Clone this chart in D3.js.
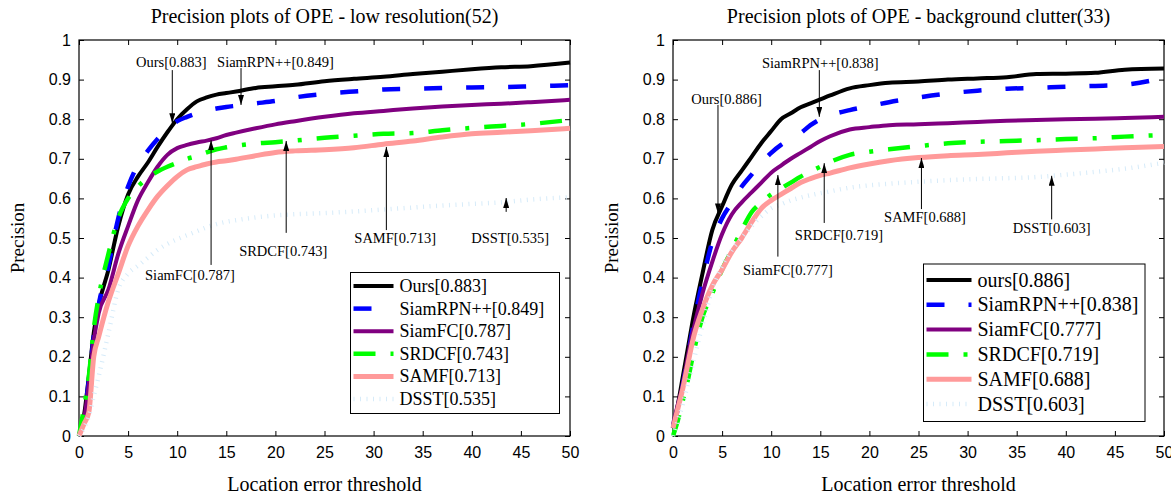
<!DOCTYPE html>
<html>
<head>
<meta charset="utf-8">
<script src="https://cdn.jsdelivr.net/npm/d3@7"></script>
<style>
  html, body { margin: 0; padding: 0; background: #fff; }
  svg { display: block; }
  .serif { font-family: "Liberation Serif", "Times New Roman", serif; }
  .tick text { font-family: "Liberation Sans", Arial, sans-serif; font-size: 16px; fill: #000; }
</style>
</head>
<body>
<svg id="chart" width="1171" height="496"></svg>
<script>
// thresholds (location error, px)
var thresholds = [0,0.5,1,1.5,2,3,4,5,6,7,8,9,10,11,12,13,14,15,16,18,20,22,25,28,31,34,37,40,43,46,50];

// low resolution(52)
var lrOurs    = [0,0.05,0.15,0.26,0.33,0.42,0.53,0.61,0.655,0.69,0.73,0.767,0.8,0.825,0.845,0.855,0.862,0.866,0.87,0.879,0.883,0.887,0.896,0.902,0.907,0.914,0.92,0.926,0.931,0.934,0.943];
var lrSiamRPN = [0,0.05,0.14,0.25,0.33,0.43,0.55,0.63,0.685,0.72,0.75,0.775,0.795,0.806,0.815,0.822,0.827,0.831,0.834,0.84,0.846,0.855,0.864,0.87,0.875,0.877,0.879,0.88,0.881,0.883,0.886];
var lrSiamFC  = [0,0.04,0.13,0.24,0.31,0.37,0.46,0.53,0.595,0.64,0.68,0.71,0.727,0.735,0.741,0.746,0.752,0.76,0.766,0.777,0.787,0.795,0.806,0.815,0.821,0.827,0.832,0.836,0.839,0.843,0.849];
var lrSRDCF   = [0,0.07,0.15,0.27,0.35,0.46,0.55,0.6,0.63,0.652,0.668,0.68,0.69,0.7,0.707,0.716,0.724,0.729,0.733,0.739,0.742,0.746,0.753,0.758,0.763,0.765,0.772,0.778,0.783,0.788,0.798];
var lrSAMF    = [0,0.03,0.06,0.2,0.25,0.34,0.41,0.48,0.53,0.57,0.605,0.632,0.655,0.672,0.68,0.687,0.692,0.695,0.699,0.708,0.716,0.72,0.723,0.728,0.737,0.745,0.755,0.763,0.767,0.771,0.777];
var lrDSST    = [0,0.02,0.05,0.1,0.15,0.26,0.37,0.41,0.43,0.45,0.47,0.485,0.497,0.507,0.517,0.527,0.535,0.541,0.545,0.552,0.557,0.56,0.563,0.567,0.572,0.577,0.582,0.586,0.59,0.597,0.603];
var lrLabels  = ["Ours[0.883]", "SiamRPN++[0.849]", "SiamFC[0.787]", "SRDCF[0.743]", "SAMF[0.713]", "DSST[0.535]"];

// background clutter(33)
var bcOurs    = [0.02,0.08,0.15,0.22,0.29,0.41,0.52,0.58,0.635,0.67,0.705,0.74,0.77,0.8,0.815,0.83,0.84,0.85,0.86,0.878,0.886,0.892,0.895,0.9,0.903,0.906,0.914,0.915,0.917,0.925,0.928];
var bcSiamRPN = [0.02,0.07,0.13,0.2,0.27,0.39,0.49,0.55,0.59,0.63,0.66,0.69,0.715,0.735,0.75,0.765,0.785,0.8,0.81,0.823,0.833,0.843,0.855,0.865,0.872,0.877,0.879,0.882,0.884,0.887,0.905];
var bcSiamFC  = [0.03,0.08,0.13,0.2,0.26,0.36,0.44,0.51,0.56,0.59,0.615,0.64,0.665,0.683,0.7,0.715,0.73,0.745,0.757,0.774,0.78,0.785,0.787,0.79,0.793,0.796,0.798,0.8,0.801,0.803,0.806];
var bcSRDCF   = [0,0.04,0.09,0.14,0.2,0.3,0.36,0.42,0.47,0.52,0.565,0.59,0.61,0.625,0.64,0.655,0.668,0.68,0.692,0.71,0.718,0.724,0.732,0.739,0.743,0.745,0.747,0.75,0.752,0.756,0.76];
var bcSAMF    = [0.02,0.07,0.12,0.18,0.24,0.32,0.38,0.42,0.465,0.5,0.54,0.575,0.595,0.61,0.625,0.64,0.65,0.658,0.664,0.677,0.687,0.695,0.703,0.708,0.711,0.715,0.719,0.722,0.725,0.728,0.731];
var bcDSST    = [0,0.04,0.08,0.13,0.18,0.28,0.37,0.43,0.47,0.5,0.53,0.555,0.575,0.585,0.595,0.602,0.608,0.613,0.618,0.627,0.633,0.637,0.642,0.646,0.649,0.651,0.654,0.66,0.667,0.675,0.69];
var bcLabels  = ["ours[0.886]", "SiamRPN++[0.838]", "SiamFC[0.777]", "SRDCF[0.719]", "SAMF[0.688]", "DSST[0.603]"];

// tick labels
var xTicks = [0,5,10,15,20,25,30,35,40,45,50];
var yTicks = [0,0.1,0.2,0.3,0.4,0.5,0.6,0.7,0.8,0.9,1];
var yTickLabels = ["0","0.1","0.2","0.3","0.4","0.5","0.6","0.7","0.8","0.9","1"];

// arrow notes: label, arrow x, tip, tail, text x, text baseline (data units)
var lrNotes = [
  ["Ours[0.883]",      9.5,  0.79,  0.924, 9.4,  0.932],
  ["SiamRPN++[0.849]", 16.5, 0.836, 0.929, 20.0, 0.932],
  ["SiamFC[0.787]",    13.45,0.747, 0.432, 11.3, 0.394],
  ["SRDCF[0.743]",     21.1, 0.745, 0.513, 20.8, 0.455],
  ["SAMF[0.713]",      31.3, 0.73,  0.52,  32.2, 0.487],
  ["DSST[0.535]",      43.5, 0.601, 0.566, 43.9, 0.487]
];
var bcNotes = [
  ["SiamRPN++[0.838]", 14.9, 0.806, 0.924, 15.0, 0.929],
  ["Ours[0.886]",      4.58, 0.562, 0.836, 5.45, 0.838],
  ["SiamFC[0.777]",    10.68,0.659, 0.453, 11.7, 0.407],
  ["SRDCF[0.719]",     15.4, 0.689, 0.538, 16.9, 0.495],
  ["SAMF[0.688]",      25.3, 0.702, 0.573, 25.66,0.54],
  ["DSST[0.603]",      38.56,0.657, 0.547, 38.56,0.512]
];

var styles = [
  {color: '#000000', width: 4,   dash: null},
  {color: '#0000ff', width: 4.5, dash: '18,24'},
  {color: '#800080', width: 4,   dash: null},
  {color: '#00ff00', width: 4.5, dash: '22,15,4,15'},
  {color: '#ff9a9a', width: 5,   dash: null},
  {color: '#d6ebf9', width: 4.5, dash: '1,5.5'}
];

var svg = d3.select('#chart');

svg.append('defs').append('marker')
  .attr('id', 'head')
  .attr('viewBox', '0 0 10 6')
  .attr('refX', 10).attr('refY', 3)
  .attr('markerWidth', 10).attr('markerHeight', 6)
  .attr('markerUnits', 'userSpaceOnUse')
  .attr('orient', 'auto')
  .append('path').attr('d', 'M0,0L10,3L0,6Z').attr('fill', '#000');

function drawPanel(cfg) {
  var top = 40, bottom = 436, w = 491;
  var x = d3.scaleLinear().domain([0, 50]).range([cfg.left, cfg.left + w]);
  var y = d3.scaleLinear().domain([0, 1]).range([bottom, top]);
  var g = svg.append('g');

  // title and axis labels
  g.append('text').attr('class', 'serif')
    .attr('x', cfg.left + w / 2).attr('y', 23)
    .attr('text-anchor', 'middle').attr('font-size', 20)
    .text(cfg.title);
  g.append('text').attr('class', 'serif')
    .attr('x', cfg.left + w / 2).attr('y', 491)
    .attr('text-anchor', 'middle').attr('font-size', 20)
    .text('Location error threshold');
  g.append('text').attr('class', 'serif')
    .attr('transform', 'translate(' + (cfg.left - 55) + ',' + ((top + bottom) / 2) + ') rotate(-90)')
    .attr('text-anchor', 'middle').attr('font-size', 19)
    .text('Precision');

  // axes, ticks pointing inward
  g.append('g').attr('transform', 'translate(0,' + bottom + ')')
    .call(d3.axisBottom(x).tickValues(xTicks).tickSize(-5).tickSizeOuter(0).tickPadding(11));
  g.append('g').attr('transform', 'translate(0,' + top + ')')
    .call(d3.axisTop(x).tickValues(xTicks).tickSize(-5).tickSizeOuter(0).tickFormat(''));
  g.append('g').attr('transform', 'translate(' + cfg.left + ',0)')
    .call(d3.axisLeft(y).tickValues(yTicks).tickSize(-5).tickSizeOuter(0).tickPadding(8)
      .tickFormat(function(d, i) { return yTickLabels[i]; }));
  g.append('g').attr('transform', 'translate(' + (cfg.left + w) + ',0)')
    .call(d3.axisRight(y).tickValues(yTicks).tickSize(-5).tickSizeOuter(0).tickFormat(''));
  g.selectAll('.domain').remove();
  g.selectAll('.tick line').attr('stroke', '#000');
  g.append('rect')
    .attr('x', cfg.left).attr('y', top).attr('width', w).attr('height', bottom - top)
    .attr('fill', 'none').attr('stroke', '#000').attr('stroke-width', 1.2);

  // curves
  var line = d3.line()
    .x(function(d, i) { return x(thresholds[i]); })
    .y(function(d) { return y(d); })
    .curve(d3.curveMonotoneX);
  cfg.series.forEach(function(s, i) {
    g.append('path').datum(s)
      .attr('d', line)
      .attr('fill', 'none')
      .attr('stroke', styles[i].color)
      .attr('stroke-width', styles[i].width)
      .attr('stroke-dasharray', styles[i].dash)
      .attr('stroke-linejoin', 'round');
  });

  // arrow notes
  cfg.notes.forEach(function(n) {
    g.append('line')
      .attr('x1', x(n[1])).attr('x2', x(n[1]))
      .attr('y1', y(n[3])).attr('y2', y(n[2]))
      .attr('stroke', '#000').attr('stroke-width', 1)
      .attr('marker-end', 'url(#head)');
    g.append('text').attr('class', 'serif')
      .attr('x', x(n[4])).attr('y', y(n[5]))
      .attr('text-anchor', 'middle').attr('font-size', 14.5)
      .text(n[0]);
  });

  // legend
  var lg = cfg.legend;
  g.append('rect')
    .attr('x', lg.x).attr('y', lg.y).attr('width', lg.w).attr('height', lg.h)
    .attr('fill', '#fff').attr('stroke', '#000').attr('stroke-width', 1);
  cfg.labels.forEach(function(lab, i) {
    var cy = lg.y + lg.first + i * lg.step;
    g.append('line')
      .attr('x1', lg.x + 3).attr('x2', lg.x + 3 + lg.sample)
      .attr('y1', cy).attr('y2', cy)
      .attr('stroke', styles[i].color)
      .attr('stroke-width', styles[i].width)
      .attr('stroke-dasharray', styles[i].dash);
    g.append('text').attr('class', 'serif')
      .attr('x', lg.x + lg.sample + 9).attr('y', cy)
      .attr('dy', '0.33em').attr('font-size', lg.font)
      .text(lab);
  });
}

drawPanel({
  left: 79,
  title: 'Precision plots of OPE - low resolution(52)',
  series: [lrOurs, lrSiamRPN, lrSiamFC, lrSRDCF, lrSAMF, lrDSST],
  labels: lrLabels,
  notes: lrNotes,
  legend: {x: 350.5, y: 272.5, w: 209, h: 141, first: 13.5, step: 22.6, sample: 40, font: 18}
});
drawPanel({
  left: 673,
  title: 'Precision plots of OPE - background clutter(33)',
  series: [bcOurs, bcSiamRPN, bcSiamFC, bcSRDCF, bcSAMF, bcDSST],
  labels: bcLabels,
  notes: bcNotes,
  legend: {x: 923.5, y: 264, w: 221.5, h: 157.5, first: 16, step: 24.8, sample: 45, font: 20}
});
</script>
</body>
</html>
